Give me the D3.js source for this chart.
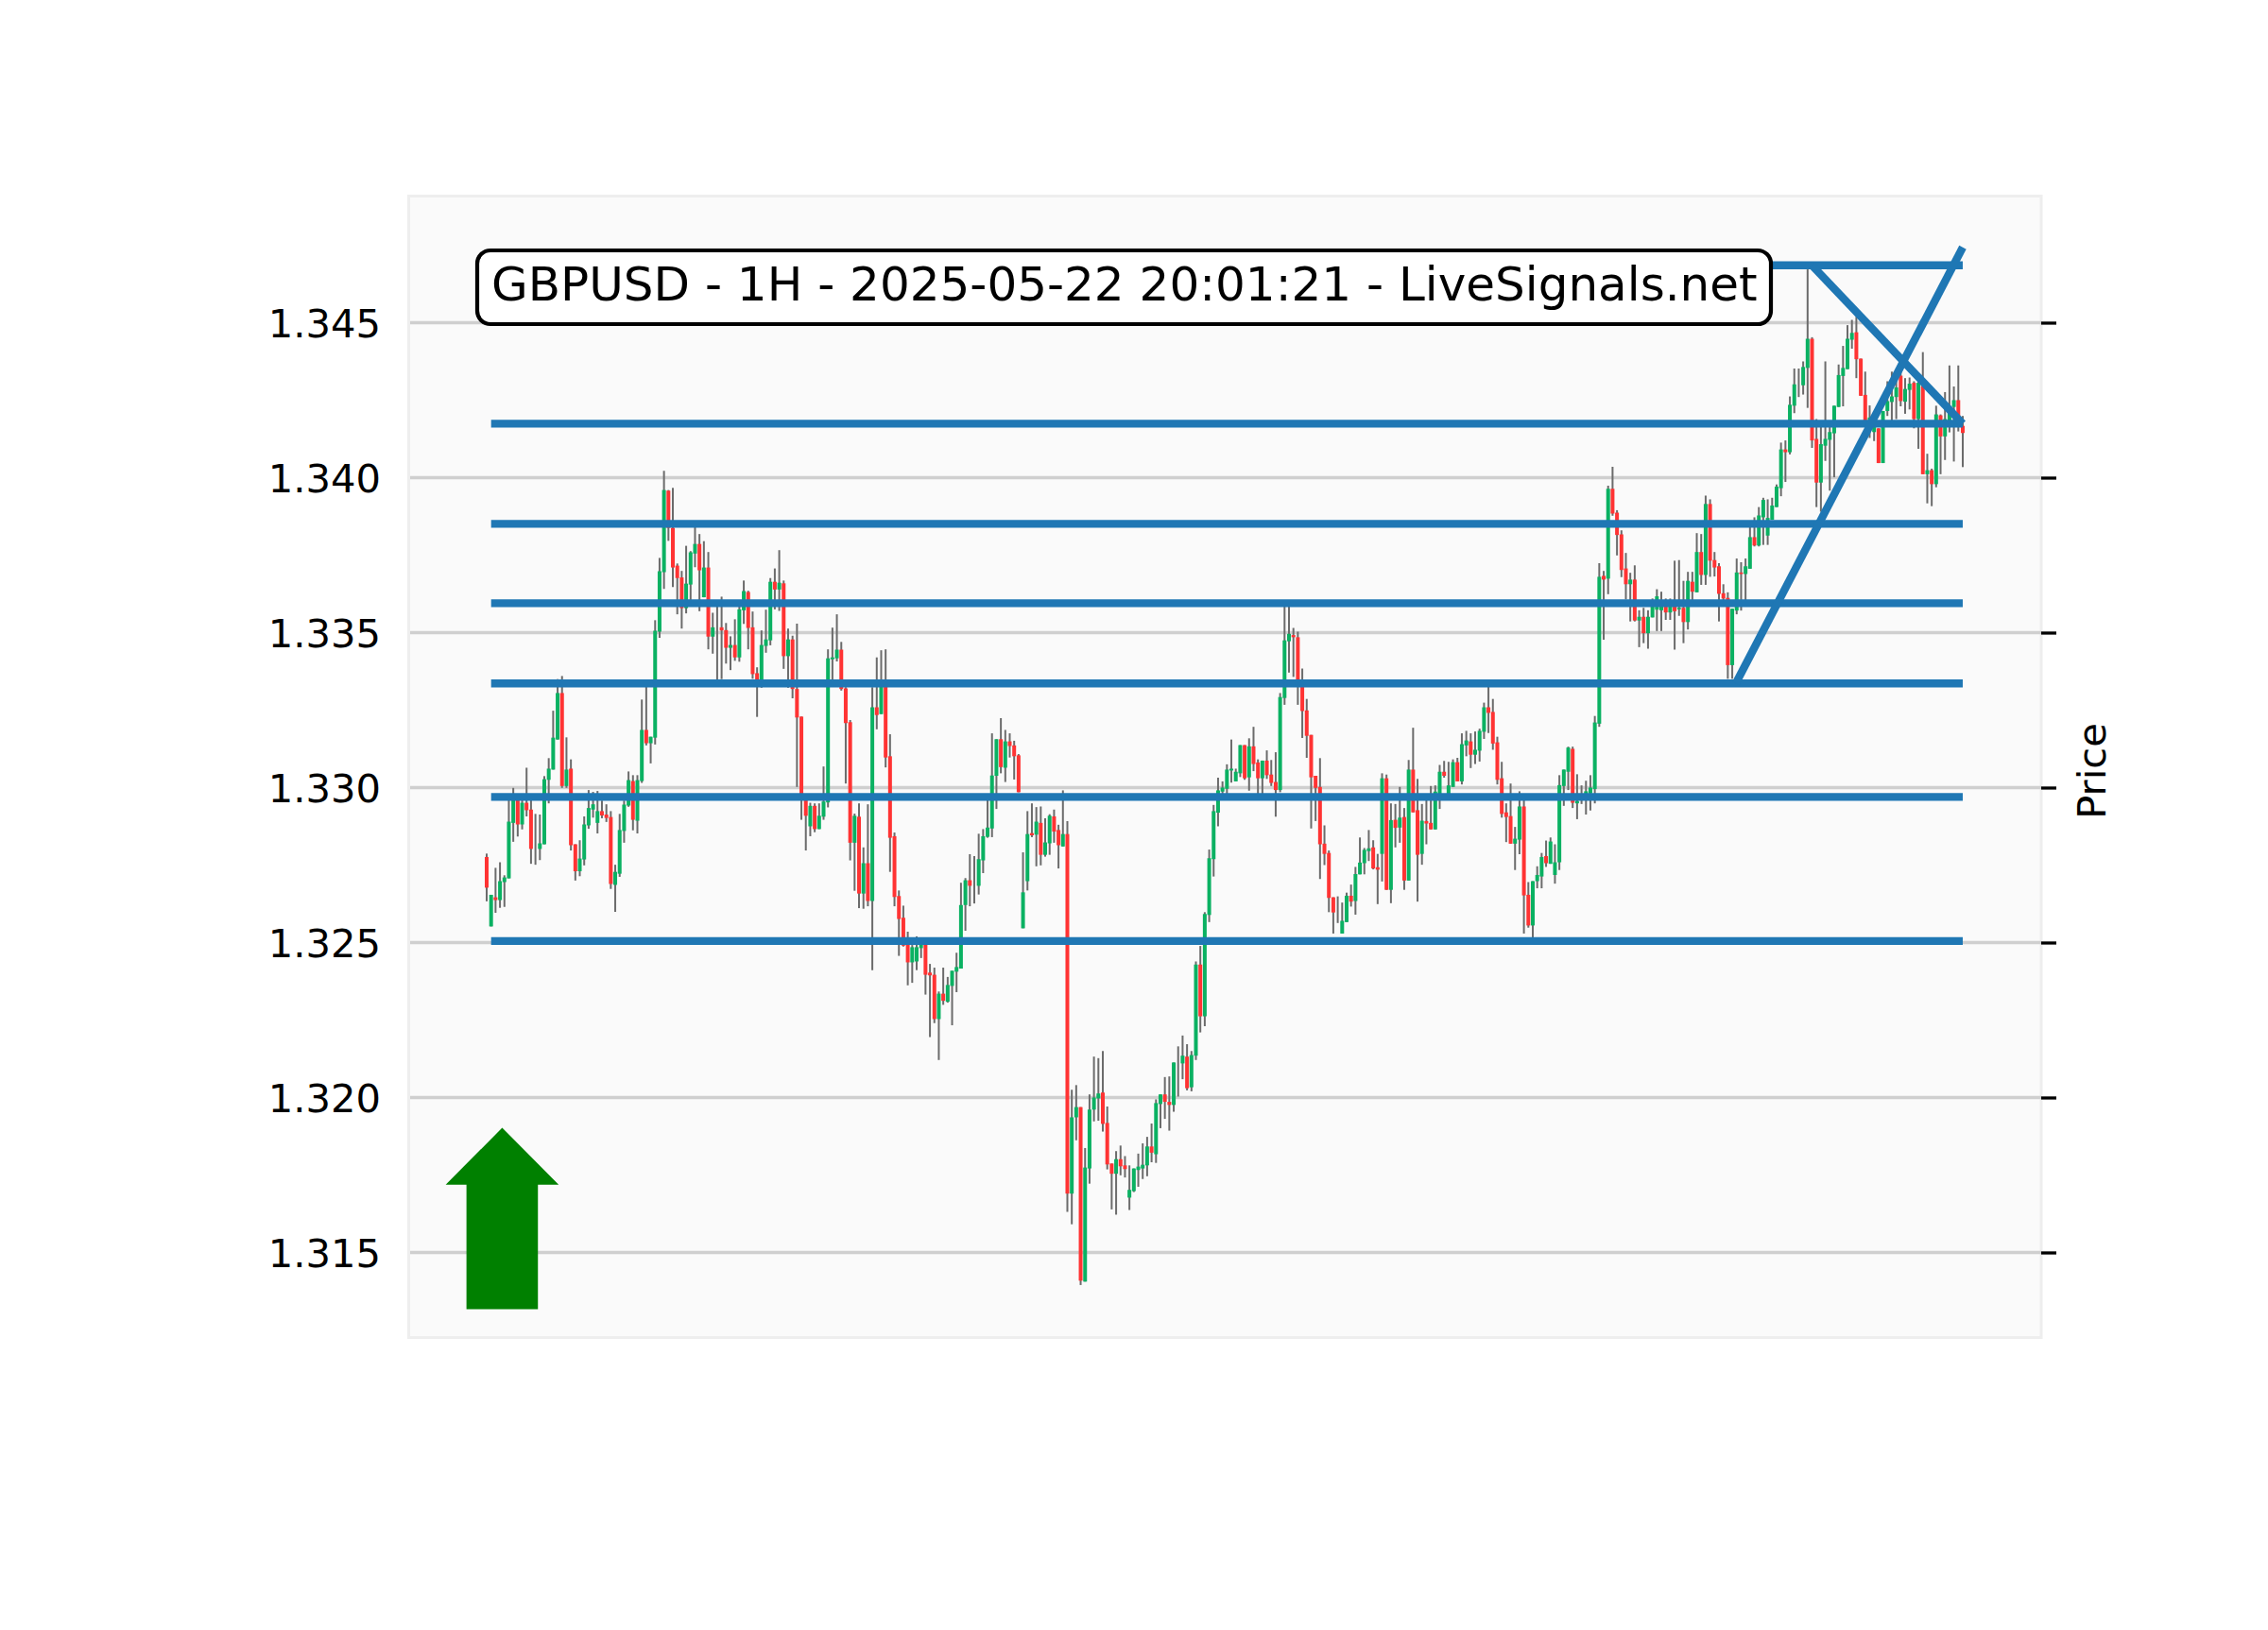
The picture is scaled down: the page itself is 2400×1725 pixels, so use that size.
<!DOCTYPE html>
<html><head><meta charset="utf-8">
<script src="https://cdn.jsdelivr.net/npm/d3@7/dist/d3.min.js"></script>
<style>html,body{margin:0;background:#fff}svg{display:block}text{font-family:"DejaVu Sans";fill:#000}</style>
</head><body><svg id="c" width="2400" height="1725"></svg>
<script>
const title = "GBPUSD - 1H - 2025-05-22 20:01:21 - LiveSignals.net";
const yAxisLabel = "Price";
const tickValues = [1.315,1.320,1.325,1.330,1.335,1.340,1.345];
const levels = [1.32505,1.32970,1.33336,1.33595,1.33851,1.34174,1.34685];
const risingLine = {i:[281.8,333], p:[1.33336,1.34743]};
const fallingLine = {i:[299,333], p:[1.34685,1.34174]};
const opens = [
1.32776,1.32552,1.32646,1.32637,1.32695,1.32707,1.32886,1.32964,1.32881,1.32951,
1.32929,1.32802,1.32802,1.32817,1.33025,1.33058,1.33155,1.33305,1.33005,1.33061,
1.32817,1.32730,1.32768,1.32878,1.32929,1.32886,1.32924,1.32913,1.32905,1.32686,
1.32722,1.32860,1.32942,1.33021,1.32893,1.33021,1.33186,1.33143,1.33161,1.33503,
1.33695,1.33958,1.33838,1.33716,1.33678,1.33579,1.33655,1.33755,1.33786,1.33614,
1.33710,1.33487,1.33517,1.33517,1.33508,1.33451,1.33460,1.33420,1.33572,1.33631,
1.33517,1.33369,1.33346,1.33457,1.33475,1.33664,1.33639,1.33659,1.33424,1.33478,
1.33318,1.33229,1.32970,1.32875,1.32941,1.32866,1.32906,1.32952,1.33414,1.33417,
1.33445,1.33320,1.33211,1.32822,1.32906,1.32658,1.32756,1.32634,1.33259,1.33237,
1.33330,1.33101,1.32843,1.32650,1.32580,1.32502,1.32436,1.32439,1.32482,1.32494,
1.32403,1.32396,1.32253,1.32335,1.32309,1.32360,1.32406,1.32416,1.32621,1.32701,
1.32683,1.32683,1.32765,1.32841,1.32868,1.33038,1.33156,1.33064,1.33149,1.33136,
1.33104,1.32546,1.32698,1.32853,1.32848,1.32886,1.32783,1.32820,1.32907,1.32863,
1.32810,1.32850,1.31690,1.31936,1.31969,1.31406,1.31771,1.31961,1.31997,1.32016,
1.31918,1.31787,1.31754,1.31801,1.31781,1.31677,1.31698,1.31766,1.31771,1.31781,
1.31842,1.31817,1.31979,1.32010,1.31986,1.31976,1.32111,1.32110,1.32132,1.32033,
1.32135,1.32429,1.32262,1.32589,1.32769,1.32919,1.32987,1.32996,1.33055,1.33020,
1.33046,1.33137,1.33033,1.33133,1.33081,1.33030,1.33087,1.33042,1.33018,1.32992,
1.33289,1.33472,1.33492,1.33485,1.33330,1.33249,1.33170,1.33038,1.33002,1.32819,
1.32789,1.32646,1.32597,1.32529,1.32566,1.32651,1.32634,1.32720,1.32756,1.32795,
1.32807,1.32743,1.32786,1.33030,1.32670,1.32896,1.32871,1.32905,1.32700,1.33058,
1.32927,1.32786,1.32892,1.32886,1.32865,1.32970,1.33051,1.32970,1.33002,1.33082,
1.33020,1.33136,1.33149,1.33106,1.33119,1.33180,1.33259,1.33244,1.33146,1.33030,
1.32920,1.32908,1.32819,1.32832,1.32939,1.32654,1.32555,1.32698,1.32713,1.32779,
1.32754,1.32718,1.32759,1.33005,1.33051,1.33125,1.32949,1.32949,1.32969,1.32981,
1.32995,1.33206,1.33683,1.33674,1.33964,1.33887,1.33817,1.33707,1.33656,1.33671,
1.33539,1.33551,1.33498,1.33549,1.33574,1.33572,1.33585,1.33565,1.33585,1.33575,
1.33580,1.33534,1.33664,1.33630,1.33760,1.33686,1.33915,1.33734,1.33714,1.33627,
1.33612,1.33395,1.33571,1.33694,1.33689,1.33706,1.33808,1.33781,1.33872,1.33813,
1.33864,1.33905,1.33966,1.34091,1.34082,1.34232,1.34300,1.34298,1.34354,1.34448,
1.34125,1.33984,1.34103,1.34122,1.34143,1.34228,1.34328,1.34350,1.34445,1.34469,
1.34384,1.34267,1.34159,1.34147,1.34159,1.34047,1.34215,1.34244,1.34260,1.34329,
1.34245,1.34283,1.34306,1.34189,1.34296,1.34011,1.34024,1.33979,1.34201,1.34133,
1.34174,1.34228,1.34250,1.34167];
const closes = [
1.32677,1.32654,1.32637,1.32698,1.32710,1.32890,1.32969,1.32881,1.32951,1.32927,
1.32802,1.32802,1.32820,1.33027,1.33061,1.33161,1.33305,1.33005,1.33058,1.32814,
1.32730,1.32771,1.32881,1.32934,1.32946,1.32924,1.32910,1.32902,1.32689,1.32728,
1.32863,1.32945,1.33024,1.32896,1.33024,1.33186,1.33143,1.33164,1.33506,1.33698,
1.33960,1.33838,1.33710,1.33676,1.33579,1.33658,1.33759,1.33786,1.33701,1.33710,
1.33487,1.33517,1.33517,1.33507,1.33451,1.33460,1.33420,1.33575,1.33634,1.33515,
1.33366,1.33346,1.33460,1.33478,1.33664,1.33639,1.33661,1.33424,1.33478,1.33318,
1.33226,1.32970,1.32909,1.32941,1.32866,1.32909,1.32955,1.33417,1.33420,1.33445,
1.33318,1.33208,1.32822,1.32909,1.32658,1.32756,1.32634,1.33259,1.33234,1.33330,
1.33097,1.32838,1.32647,1.32576,1.32490,1.32436,1.32485,1.32485,1.32494,1.32396,
1.32394,1.32253,1.32335,1.32312,1.32363,1.32409,1.32421,1.32621,1.32701,1.32683,
1.32683,1.32769,1.32843,1.32871,1.33039,1.33156,1.33066,1.33149,1.33134,1.33101,
1.32985,1.32662,1.32850,1.32846,1.32890,1.32783,1.32823,1.32909,1.32858,1.32814,
1.32850,1.31690,1.31936,1.31969,1.31409,1.31774,1.31961,1.32000,1.32013,1.31915,
1.31784,1.31754,1.31801,1.31778,1.31769,1.31702,1.31771,1.31777,1.31783,1.31842,
1.31822,1.31982,1.32010,1.31986,1.31976,1.32113,1.32111,1.32135,1.32030,1.32137,
1.32429,1.32262,1.32592,1.32772,1.32924,1.32991,1.33000,1.33058,1.33061,1.33051,
1.33137,1.33030,1.33133,1.33076,1.33030,1.33087,1.33040,1.33015,1.32992,1.33292,
1.33475,1.33496,1.33485,1.33330,1.33247,1.33167,1.33033,1.32999,1.32817,1.32786,
1.32644,1.32597,1.32597,1.32570,1.32651,1.32632,1.32721,1.32758,1.32799,1.32804,
1.32739,1.32735,1.33030,1.32670,1.32895,1.32870,1.32903,1.32700,1.33058,1.32920,
1.32783,1.32893,1.32884,1.32865,1.32987,1.33051,1.33038,1.33007,1.33082,1.33020,
1.33140,1.33152,1.33106,1.33122,1.33183,1.33259,1.33241,1.33142,1.33025,1.32915,
1.32905,1.32819,1.32835,1.32939,1.32652,1.32555,1.32698,1.32718,1.32776,1.32756,
1.32826,1.32759,1.33008,1.33058,1.33129,1.32951,1.32957,1.32949,1.32988,1.33000,
1.33210,1.33680,1.33671,1.33964,1.33884,1.33815,1.33702,1.33656,1.33671,1.33539,
1.33551,1.33498,1.33551,1.33585,1.33617,1.33589,1.33565,1.33585,1.33569,1.33580,
1.33534,1.33667,1.33632,1.33760,1.33686,1.33915,1.33732,1.33710,1.33625,1.33610,
1.33395,1.33577,1.33694,1.33689,1.33714,1.33808,1.33781,1.33878,1.33928,1.33870,
1.33910,1.33971,1.34091,1.34082,1.34235,1.34301,1.34300,1.34357,1.34448,1.34120,
1.33984,1.34108,1.34125,1.34147,1.34232,1.34331,1.34354,1.34448,1.34467,1.34382,
1.34264,1.34179,1.34194,1.34179,1.34047,1.34215,1.34247,1.34262,1.34291,1.34247,
1.34286,1.34303,1.34189,1.34306,1.34011,1.34024,1.33979,1.34204,1.34133,1.34189,
1.34230,1.34250,1.34169,1.34144];
const highs = [
1.32787,1.32654,1.32741,1.32759,1.32717,1.32964,1.32999,1.32974,1.32964,1.33064,
1.32964,1.32915,1.32913,1.33037,1.33095,1.33248,1.33350,1.33360,1.33162,1.33091,
1.32817,1.32830,1.32907,1.32992,1.32986,1.32989,1.32958,1.32946,1.32924,1.32751,
1.32915,1.32958,1.33052,1.33040,1.33040,1.33284,1.33325,1.33164,1.33540,1.33741,
1.34022,1.33960,1.33967,1.33723,1.33699,1.33780,1.33763,1.33840,1.33818,1.33795,
1.33760,1.33564,1.33584,1.33616,1.33531,1.33488,1.33543,1.33584,1.33668,1.33635,
1.33568,1.33388,1.33507,1.33574,1.33676,1.33707,1.33766,1.33668,1.33513,1.33490,
1.33529,1.33229,1.32970,1.32951,1.32949,1.32949,1.33068,1.33446,1.33516,1.33559,
1.33470,1.33324,1.33218,1.32916,1.32949,1.32807,1.32946,1.33324,1.33420,1.33443,
1.33446,1.33172,1.32855,1.32668,1.32619,1.32535,1.32492,1.32520,1.32507,1.32502,
1.32431,1.32419,1.32342,1.32419,1.32389,1.32409,1.32467,1.32693,1.32708,1.32785,
1.32779,1.32851,1.32866,1.32960,1.33175,1.33156,1.33224,1.33186,1.33175,1.33151,
1.33108,1.32791,1.32924,1.32949,1.32937,1.32939,1.32901,1.32914,1.32929,1.32880,
1.32991,1.32892,1.32025,1.32040,1.31969,1.31837,1.32010,1.32132,1.32127,1.32150,
1.31971,1.31787,1.31827,1.31845,1.31811,1.31781,1.31771,1.31819,1.31852,1.31873,
1.31916,1.31994,1.32010,1.32066,1.32068,1.32113,1.32165,1.32200,1.32172,1.32150,
1.32439,1.32489,1.32598,1.32800,1.32944,1.33032,1.33020,1.33075,1.33155,1.33061,
1.33137,1.33137,1.33159,1.33196,1.33091,1.33087,1.33120,1.33089,1.33114,1.33305,
1.33605,1.33589,1.33515,1.33503,1.33384,1.33286,1.33170,1.33038,1.33095,1.32878,
1.32797,1.32646,1.32649,1.32629,1.32661,1.32687,1.32744,1.32839,1.32805,1.32863,
1.32830,1.32786,1.33046,1.33042,1.32949,1.32947,1.33002,1.32934,1.33089,1.33193,
1.33028,1.32947,1.32959,1.33005,1.33007,1.33073,1.33086,1.33083,1.33091,1.33096,
1.33175,1.33183,1.33175,1.33181,1.33190,1.33274,1.33330,1.33286,1.33164,1.33083,
1.32949,1.33013,1.32873,1.32988,1.32959,1.32695,1.32698,1.32746,1.32789,1.32829,
1.32839,1.32817,1.33040,1.33058,1.33132,1.33132,1.33043,1.33007,1.33022,1.33040,
1.33231,1.33724,1.33699,1.33974,1.34035,1.33895,1.33830,1.33757,1.33693,1.33717,
1.33572,1.33580,1.33572,1.33610,1.33640,1.33632,1.33610,1.33610,1.33732,1.33734,
1.33667,1.33696,1.33696,1.33821,1.33818,1.33942,1.33930,1.33760,1.33724,1.33656,
1.33630,1.33577,1.33739,1.33727,1.33739,1.33844,1.33872,1.33905,1.33935,1.33930,
1.33935,1.33978,1.34113,1.34120,1.34262,1.34352,1.34352,1.34375,1.34672,1.34453,
1.34189,1.34169,1.34375,1.34172,1.34232,1.34365,1.34425,1.34492,1.34509,1.34519,
1.34384,1.34342,1.34233,1.34210,1.34159,1.34215,1.34311,1.34342,1.34340,1.34377,
1.34321,1.34323,1.34311,1.34321,1.34405,1.34077,1.34029,1.34232,1.34204,1.34276,
1.34362,1.34294,1.34362,1.34199];
const lows = [
1.32633,1.32552,1.32596,1.32612,1.32615,1.32707,1.32825,1.32842,1.32865,1.32907,
1.32754,1.32751,1.32766,1.32817,1.32949,1.33058,1.33155,1.32999,1.32999,1.32797,
1.32700,1.32714,1.32749,1.32867,1.32903,1.32852,1.32901,1.32889,1.32673,1.32599,
1.32712,1.32822,1.32938,1.32862,1.32852,1.33015,1.33136,1.33078,1.33139,1.33483,
1.33641,1.33796,1.33647,1.33559,1.33513,1.33562,1.33594,1.33711,1.33569,1.33614,
1.33446,1.33432,1.33348,1.33350,1.33400,1.33379,1.33409,1.33406,1.33528,1.33446,
1.33351,1.33228,1.33322,1.33435,1.33459,1.33575,1.33570,1.33383,1.33322,1.33288,
1.33002,1.32896,1.32797,1.32843,1.32856,1.32866,1.32896,1.32936,1.33346,1.33407,
1.33313,1.33013,1.32765,1.32667,1.32611,1.32609,1.32617,1.32411,1.33188,1.33237,
1.33065,1.32728,1.32617,1.32457,1.32487,1.32362,1.32370,1.32411,1.32450,1.32332,
1.32195,1.32240,1.32121,1.32299,1.32306,1.32233,1.32340,1.32416,1.32538,1.32617,
1.32626,1.32655,1.32724,1.32838,1.32840,1.32931,1.33046,1.33018,1.33097,1.33026,
1.32985,1.32546,1.32668,1.32840,1.32746,1.32749,1.32777,1.32783,1.32822,1.32739,
1.32810,1.31631,1.31591,1.31862,1.31395,1.31406,1.31722,1.31923,1.31925,1.31890,
1.31768,1.31639,1.31622,1.31749,1.31742,1.31637,1.31695,1.31712,1.31737,1.31746,
1.31791,1.31789,1.31901,1.31931,1.31893,1.31954,1.32003,1.32059,1.32023,1.32020,
1.32121,1.32210,1.32230,1.32566,1.32713,1.32875,1.32970,1.32977,1.33016,1.33020,
1.33034,1.33025,1.32990,1.33053,1.32969,1.32969,1.33028,1.33005,1.32906,1.32985,
1.33267,1.33371,1.33357,1.33267,1.33160,1.33096,1.32868,1.32892,1.32705,1.32750,
1.32598,1.32529,1.32563,1.32529,1.32566,1.32616,1.32590,1.32720,1.32720,1.32763,
1.32736,1.32624,1.32697,1.32670,1.32627,1.32807,1.32822,1.32670,1.32700,1.32920,
1.32632,1.32751,1.32817,1.32865,1.32865,1.32931,1.33032,1.32970,1.33002,1.33020,
1.33010,1.33101,1.33063,1.33076,1.33084,1.33157,1.33176,1.33122,1.33010,1.32903,
1.32824,1.32819,1.32734,1.32785,1.32529,1.32548,1.32516,1.32675,1.32675,1.32744,
1.32754,1.32690,1.32734,1.32941,1.32992,1.32934,1.32898,1.32947,1.32913,1.32926,
1.32949,1.33196,1.33477,1.33624,1.33877,1.33749,1.33679,1.33607,1.33536,1.33536,
1.33453,1.33466,1.33448,1.33549,1.33505,1.33505,1.33541,1.33541,1.33445,1.33554,
1.33466,1.33510,1.33595,1.33630,1.33654,1.33654,1.33680,1.33681,1.33536,1.33585,
1.33351,1.33351,1.33559,1.33571,1.33600,1.33706,1.33778,1.33778,1.33783,1.33783,
1.33864,1.33905,1.33940,1.33986,1.34075,1.34208,1.34260,1.34268,1.34225,1.34096,
1.33905,1.33890,1.34054,1.33958,1.34001,1.34228,1.34230,1.34350,1.34416,1.34321,
1.34264,1.34179,1.34128,1.34118,1.34047,1.34047,1.34199,1.34184,1.34189,1.34230,
1.34206,1.34220,1.34159,1.34093,1.34011,1.33917,1.33908,1.33969,1.34011,1.34057,
1.34146,1.34052,1.34149,1.34034];
const arrowIdx = [3.5,16.25,11.56,11.56,-4.56,-4.56,-9.25];
const arrowPrice = [1.31902,1.31719,1.31719,1.31317,1.31317,1.31719,1.31719];

const upColor="#0ab162", downColor="#ff3333", wickColor="#6b6b6b", lineColor="#1f77b4";
const n = opens.length;
const x = d3.scaleLinear().domain([-17.91,350.7]).range([431,2160]);
const y = d3.scaleLinear().domain([1.31224,1.34913]).range([1416,206]);
const svg = d3.select("#c");

svg.append("rect").attr("x",432.5).attr("y",207.5)
  .attr("width",2160-432.5).attr("height",1415.5-207.5)
  .attr("fill","#fafafa").attr("stroke","#eeeeee").attr("stroke-width",3);

svg.append("g").selectAll("line").data(tickValues).join("line")
  .attr("x1",434).attr("x2",2160).attr("y1",d=>y(d)).attr("y2",d=>y(d))
  .attr("stroke","#cfcfcf").attr("stroke-width",3.4);

const idx = d3.range(n);
svg.append("g").selectAll("line").data(idx).join("line")
  .attr("x1",i=>x(i)).attr("x2",i=>x(i)).attr("y1",i=>y(highs[i])).attr("y2",i=>y(lows[i]))
  .attr("stroke",wickColor).attr("stroke-width",2);
svg.append("g").selectAll("rect").data(idx).join("rect")
  .attr("x",i=>x(i)-2).attr("width",4)
  .attr("y",i=>y(Math.max(opens[i],closes[i])))
  .attr("height",i=>Math.abs(y(opens[i])-y(closes[i])))
  .attr("fill",i=>closes[i]>=opens[i]?upColor:downColor);

svg.append("g").selectAll("line").data(levels).join("line")
  .attr("x1",x(1)).attr("x2",x(333)).attr("y1",d=>y(d)).attr("y2",d=>y(d))
  .attr("stroke",lineColor).attr("stroke-width",8.33);
for (const t of [risingLine,fallingLine])
  svg.append("line").attr("x1",x(t.i[0])).attr("x2",x(t.i[1])).attr("y1",y(t.p[0])).attr("y2",y(t.p[1]))
    .attr("stroke",lineColor).attr("stroke-width",8.33);

svg.append("path").attr("fill","#008000")
  .attr("d",d3.line().x((d,i)=>x(arrowIdx[i])).y((d,i)=>y(arrowPrice[i]))(arrowIdx)+"Z");

const la = svg.append("g").attr("transform","translate(431,0)")
  .call(d3.axisLeft(y).tickValues(tickValues).tickFormat(d3.format(".3f")).tickSize(0).tickPadding(28));
la.select(".domain").remove();
la.selectAll("text").attr("dy","15.4px").style("font-size","41.67px").style("font-family","DejaVu Sans").attr("fill","#000");
const ra = svg.append("g").attr("transform","translate(2160,0)")
  .call(d3.axisRight(y).tickValues(tickValues).tickFormat("").tickSize(16));
ra.select(".domain").remove();
ra.selectAll("line").attr("stroke","#000").attr("stroke-width",3.3);

svg.append("text").attr("transform","translate(2228,816) rotate(-90)").attr("text-anchor","middle")
  .style("font-size","41.67px").text(yAxisLabel);

svg.append("rect").attr("x",505).attr("y",265).attr("width",1369).attr("height",78).attr("rx",14)
  .attr("fill","#fff").attr("stroke","#000").attr("stroke-width",4.2);
svg.append("text").attr("x",520).attr("y",318).style("font-size","50px").text(title);
</script></body></html>
